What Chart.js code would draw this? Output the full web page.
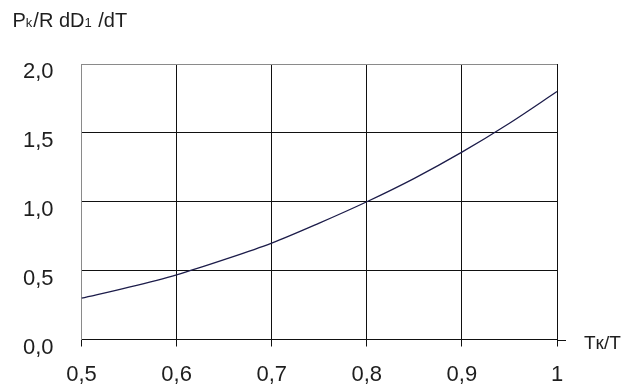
<!DOCTYPE html>
<html>
<head>
<meta charset="utf-8">
<script src="https://cdn.jsdelivr.net/npm/chart.js@4/dist/chart.umd.min.js"></script>
<style>
html,body{margin:0;padding:0;background:#fff;}
#wrap{width:621px;height:387px;position:relative;}
</style>
</head>
<body>
<div id="wrap"><canvas id="c" width="621" height="387"></canvas></div>
<script>
// Data
const xValues = [0.5, 0.55, 0.6, 0.65, 0.7, 0.75, 0.8, 0.85, 0.9, 0.95, 1.0];
const yValues = [0.30, 0.38, 0.47, 0.58, 0.70, 0.845, 1.0, 1.17, 1.36, 1.57, 1.80];
const xTickLabels = ['0,5', '0,6', '0,7', '0,8', '0,9', '1'];
const yTickLabels = ['0,0', '0,5', '1,0', '1,5', '2,0'];
const yTitleParts = [['P', false], ['k', true], ['/R dD', false], ['1', true], [' /dT', false]];
const xTitle = 'Tк/T';

const FONT = '"Liberation Sans", Arial, sans-serif';
const TEXT = '#1e1e1e';

const extras = {
  id: 'extras',
  afterDraw(chart) {
    const ctx = chart.ctx;
    const a = chart.chartArea;
    const ys = chart.scales.y;
    const y0 = Math.round(ys.getPixelForValue(0)) + 0.5;
    ctx.save();
    // axis extension beyond the last tick
    ctx.strokeStyle = '#111';
    ctx.lineWidth = 1;
    ctx.beginPath();
    ctx.moveTo(a.right, y0);
    ctx.lineTo(a.right + 9, y0);
    ctx.stroke();
    // x axis title
    ctx.fillStyle = TEXT;
    ctx.font = '19px ' + FONT;
    ctx.textBaseline = 'middle';
    ctx.textAlign = 'left';
    ctx.fillText(xTitle, a.right + 27, y0 + 3);
    // y axis title with subscripts
    let x = 12.5;
    ctx.textBaseline = 'alphabetic';
    for (const [t, sub] of yTitleParts) {
      ctx.font = (sub ? '13px ' : '20px ') + FONT;
      ctx.fillText(t, x, 27);
      x += ctx.measureText(t).width + (sub ? 1 : 0);
    }
    ctx.restore();
  }
};

new Chart(document.getElementById('c'), {
  type: 'line',
  data: {
    datasets: [{
      data: xValues.map((v, i) => ({x: v, y: yValues[i]})),
      borderColor: '#1c1c4a',
      borderWidth: 1.3,
      pointRadius: 0,
      cubicInterpolationMode: 'monotone',
      fill: false
    }]
  },
  options: {
    responsive: false,
    animation: false,
    devicePixelRatio: 1,
    layout: {padding: {top: 64, right: 64, left: 0, bottom: 0}},
    plugins: {legend: {display: false}, tooltip: {enabled: false}, title: {display: false}},
    scales: {
      x: {
        type: 'linear',
        min: 0.5, max: 1.0,
        afterFit: s => { s.height = 47.5; },
        afterBuildTicks: s => { s.ticks = xTickLabels.map((_, i) => ({value: 0.5 + i * 0.1})); },
        border: {color: '#111', width: 1},
        grid: {
          color: c => (c.index === 0 ? '#8a8a8a' : '#111'),
          tickColor: '#111',
          tickLength: 7,
          drawTicks: true
        },
        ticks: {
          callback: (v, i) => xTickLabels[i],
          color: TEXT,
          font: {family: FONT, size: 22},
          padding: 15,
          maxRotation: 0,
          autoSkip: false
        }
      },
      y: {
        min: 0, max: 2,
        afterFit: s => { s.width = 81.5; },
        afterBuildTicks: s => { s.ticks = yTickLabels.map((_, i) => ({value: i * 0.5})); },
        border: {color: '#8a8a8a', width: 1},
        grid: {
          color: c => (c.index === yTickLabels.length - 1 ? '#8a8a8a' : '#111'),
          drawTicks: false
        },
        ticks: {
          callback: (v, i) => yTickLabels[i],
          color: TEXT,
          font: {family: FONT, size: 22},
          padding: 28,
          labelOffset: 8
        }
      }
    }
  },
  plugins: [extras]
});
</script>
</body>
</html>
